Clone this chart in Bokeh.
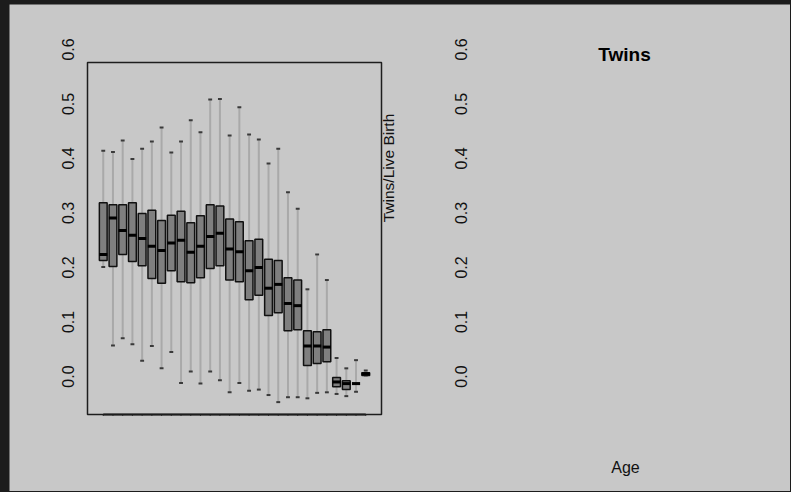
import math
from bokeh.plotting import figure
from bokeh.models import Range1d, BoxAnnotation
from bokeh.core.properties import value
from bokeh.embed import file_html
from bokeh.resources import INLINE

# ---- data ----
groups = list(range(1, 29))
upper = [0.414, 0.412, 0.433, 0.399, 0.418, 0.431, 0.457, 0.411, 0.431, 0.470,
         0.448, 0.508, 0.509, 0.442, 0.494, 0.444, 0.435, 0.391, 0.418, 0.338,
         0.308, 0.160, 0.224, 0.177, 0.034, 0.015, 0.030, 0.011]
q3 = [0.319, 0.315, 0.315, 0.319, 0.299, 0.305, 0.286, 0.296, 0.303, 0.282,
      0.295, 0.315, 0.313, 0.289, 0.284, 0.249, 0.252, 0.215, 0.213, 0.181,
      0.177, 0.084, 0.082, 0.086, -0.002, -0.008, -0.013, 0.007]
median = [0.224, 0.291, 0.268, 0.259, 0.253, 0.239, 0.231, 0.245, 0.250, 0.228,
          0.239, 0.257, 0.263, 0.234, 0.229, 0.194, 0.200, 0.162, 0.169, 0.134,
          0.130, 0.056, 0.056, 0.054, -0.010, -0.013, -0.013, 0.005]
q1 = [0.213, 0.202, 0.224, 0.211, 0.203, 0.180, 0.171, 0.194, 0.174, 0.172,
      0.181, 0.198, 0.203, 0.177, 0.174, 0.141, 0.149, 0.112, 0.117, 0.084,
      0.086, 0.020, 0.024, 0.027, -0.019, -0.024, -0.013, 0.002]
lower = [0.201, 0.057, 0.070, 0.059, 0.029, 0.056, 0.015, 0.045, -0.012, 0.009,
         -0.013, 0.009, -0.007, -0.029, -0.012, -0.026, -0.024, -0.034, -0.047, -0.038,
         -0.038, -0.040, -0.030, -0.029, -0.032, -0.036, -0.028, 0.002]
tick_values = [0.0, 0.1, 0.2, 0.3, 0.4, 0.5, 0.6]
tick_labels = ["0.0", "0.1", "0.2", "0.3", "0.4", "0.5", "0.6"]
title_text = "Twins"
ylab_text = "Twins/Live Birth"
xlab_text = "Age"

# ---- layout (canvas pixels) ----
FONT = "Liberation Sans"
BG = "#c8c8c8"
W, H = 781, 487
xlim = (-0.62, 29.62)          # plotting region limits (R style, 4% padding)
ylim = (-0.0697, 0.5761)
box_left, box_right = 78, 372  # plotting region in canvas px
box_top, box_bottom = 58, 410

kx = (box_right - box_left) / (xlim[1] - xlim[0])
ky = (box_bottom - box_top) / (ylim[1] - ylim[0])
x_start = xlim[0] - box_left / kx
x_end = x_start + W / kx
y_end = ylim[1] + box_top / ky
y_start = y_end - H / ky


def cx(px):
    return x_start + px / kx


def cy(py):
    return y_end - py / ky


p = figure(width=W, height=H, output_backend="svg", toolbar_location=None,
           x_range=Range1d(x_start, x_end), y_range=Range1d(y_start, y_end),
           x_axis_location=None, y_axis_location=None, min_border=0)
p.background_fill_color = BG
p.border_fill_color = BG
p.outline_line_color = None
p.grid.visible = False

# plotting-region frame
p.add_layout(BoxAnnotation(left=xlim[0], right=xlim[1], bottom=ylim[0], top=ylim[1],
                           fill_color=None, fill_alpha=0, line_color="#1e1e1e",
                           line_alpha=1.0, line_width=1.5))

# bottom axis line with tiny ticks at each group
p.line(x=[groups[0], groups[-1]], y=[ylim[0], ylim[0]], line_color="#1a1a1a", line_width=2.2)
p.segment(x0=groups, y0=[ylim[0]] * len(groups), x1=groups,
          y1=[ylim[0] - 1.5 / ky] * len(groups), line_color="#333333", line_width=1)

# whiskers
p.segment(x0=groups, y0=q3, x1=groups, y1=upper, line_color="#a9a9a9", line_width=2)
p.segment(x0=groups, y0=q1, x1=groups, y1=lower, line_color="#a9a9a9", line_width=2)
# caps
capw = 0.2
p.segment(x0=[g - capw for g in groups], y0=upper, x1=[g + capw for g in groups], y1=upper,
          line_color="#3a3a3a", line_width=2)
p.segment(x0=[g - capw for g in groups], y0=lower, x1=[g + capw for g in groups], y1=lower,
          line_color="#3a3a3a", line_width=2)
# boxes
p.vbar(x=groups, width=0.8, top=q3, bottom=q1, fill_color="#7f7f7f",
       line_color="#111111", line_width=1.5)
# medians
p.segment(x0=[g - 0.42 for g in groups], y0=median, x1=[g + 0.42 for g in groups], y1=median,
          line_color="#000000", line_width=3)

# tick label columns (left of the box region and far right)
for xpos in (cx(58), cx(451)):
    p.text(x=[xpos] * len(tick_values), y=tick_values, text=tick_labels,
           angle=math.pi / 2, text_align="center", text_baseline="middle",
           text_font=value(FONT), text_font_size="16px", text_color="#111111")

p.text(x=[cx(379.3)], y=[cy(163.5)], text=[ylab_text], angle=math.pi / 2,
       text_align="center", text_baseline="middle", text_font=value(FONT),
       text_font_size="15.5px", text_color="#111111")
p.text(x=[cx(615)], y=[cy(50)], text=[title_text], text_align="center",
       text_baseline="middle", text_font=value(FONT), text_font_size="19px",
       text_font_style="bold", text_color="#000000")
p.text(x=[cx(616)], y=[cy(463)], text=[xlab_text], text_align="center",
       text_baseline="middle", text_font=value(FONT), text_font_size="16px",
       text_color="#111111")

html = file_html(p, INLINE)
html = html.replace("</head>",
                    "<style>html,body{margin:0;padding:0;background:#1c1c1c;overflow:hidden}"
                    "body{padding:4px 0 0 9px}</style></head>", 1)
open("out.html", "w").write(html)
